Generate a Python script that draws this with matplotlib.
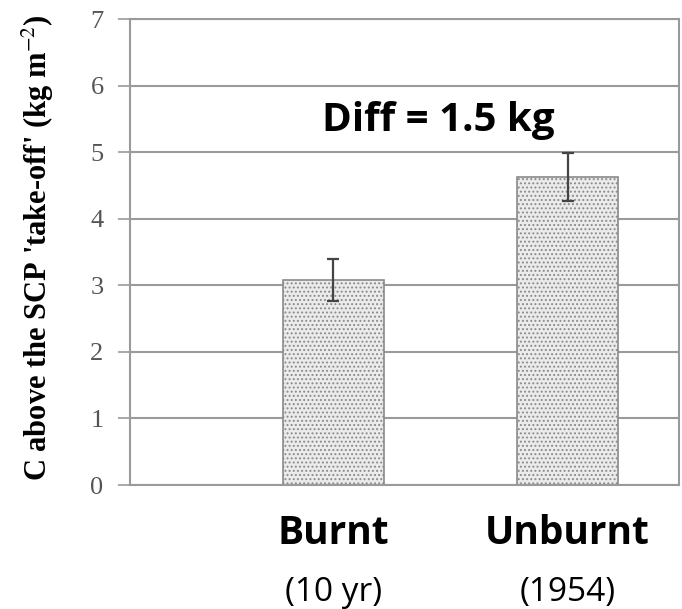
import matplotlib.pyplot as plt

# values
categories = ["Burnt", "Unburnt"]
subtitles = ["(10 yr)", "(1954)"]
carbon = [3.08, 4.62]
carbon_err = [0.32, 0.36]
yticks = [0, 1, 2, 3, 4, 5, 6, 7]
diff_label = "Diff = 1.5 kg"

plt.rcParams["hatch.linewidth"] = 0.9
plt.rcParams["mathtext.fontset"] = "stix"

fig = plt.figure(figsize=(6.82, 6.09), dpi=100)
ax = fig.add_axes([0.1906, 0.2036, 0.805, 0.7652])

x = [1, 2]
ax.bar(x, carbon, width=0.43, color="#ebebeb", edgecolor="#8a8a8a",
       hatch="....", linewidth=1.2, zorder=2)
ax.errorbar(x, carbon, yerr=carbon_err, fmt="none", ecolor="#444444",
            elinewidth=1.6, capsize=4, capthick=1.6, zorder=3)

ax.set_xlim(0.134, 2.475)
ax.set_ylim(0, 7)
ax.set_yticks(yticks)
ax.set_xticks([])
ax.yaxis.grid(True, color="#9a9a9a", linewidth=1.5, zorder=0)
ax.set_axisbelow(True)
for s in ax.spines.values():
    s.set_color("#9a9a9a")
    s.set_linewidth(1.5)
ax.tick_params(axis="y", length=9, width=1.2, color="#9a9a9a", pad=10,
               labelsize=19, labelcolor="#555555")
for lab in ax.get_yticklabels():
    lab.set_family("Liberation Serif")

ax.set_ylabel("C above the SCP 'take-off' (kg m$^{-2}$)", family="Liberation Serif",
              fontweight="bold", fontsize=22)
ax.yaxis.set_label_coords(-0.135, 0.51)

ax.text(1.447, 5.47, diff_label, ha="center", va="center", family="Open Sans",
        fontweight="bold", fontsize=29, color="black")

# category labels below the axis
for xi, name, sub in zip(x, categories, subtitles):
    ax.annotate(name, xy=(xi, 0), xycoords=("data", "axes fraction"),
                xytext=(0, -48), textcoords="offset pixels", ha="center", va="center",
                family="Open Sans", fontweight="bold", fontsize=28)
    ax.annotate(sub, xy=(xi, 0), xycoords=("data", "axes fraction"),
                xytext=(0, -107), textcoords="offset pixels", ha="center", va="center",
                family="Open Sans", fontsize=24)

fig.savefig("out.png", dpi=100)
